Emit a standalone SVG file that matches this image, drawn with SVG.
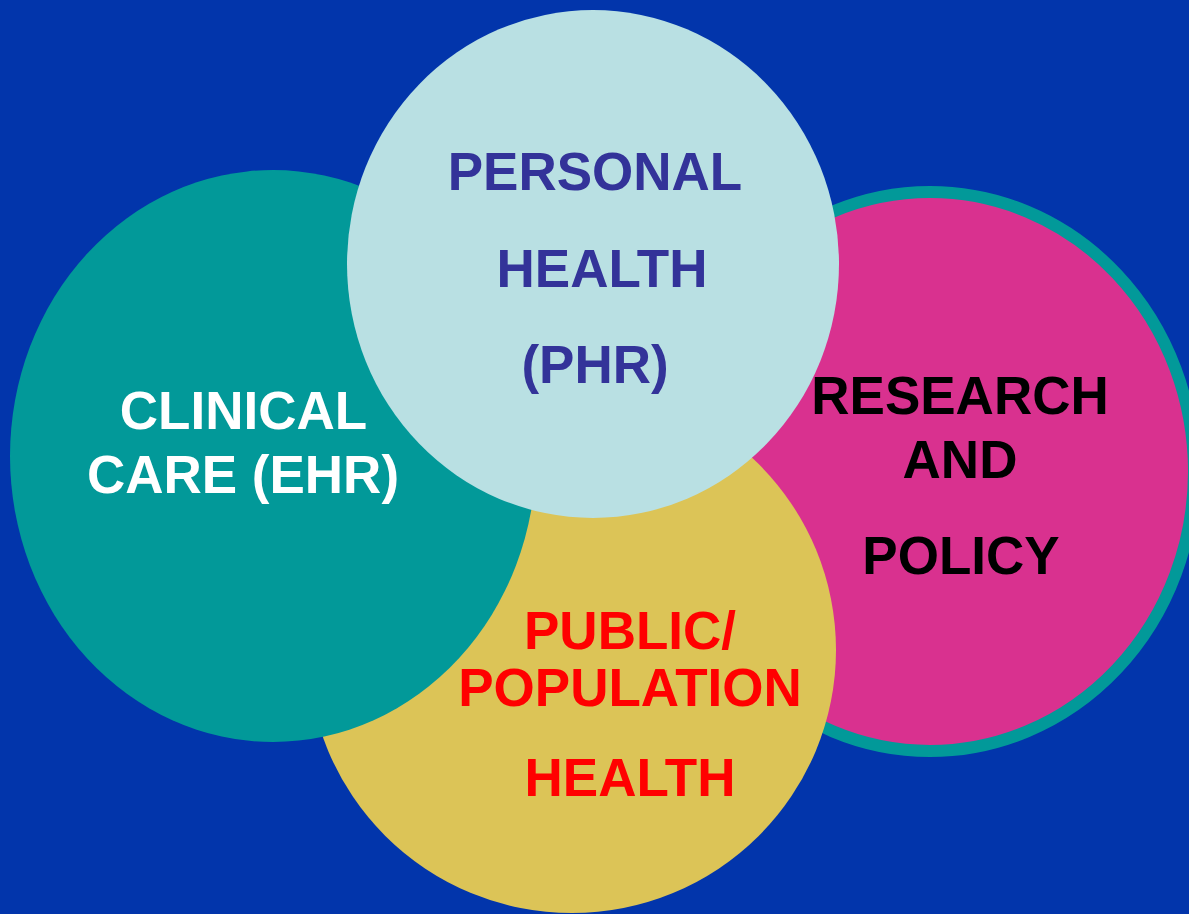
<svg xmlns="http://www.w3.org/2000/svg" width="1189" height="914" viewBox="0 0 1189 914">
<style>
.t{font-family:"Liberation Sans",Arial,sans-serif;font-weight:bold;font-size:53px;text-anchor:middle}
</style>
<rect width="1189" height="914" fill="#0235AB"/>
<g id="research">
<ellipse cx="930" cy="471.5" rx="264" ry="279.5" fill="#D9318F" stroke="#029999" stroke-width="12"/>
<text class="t" x="960" y="414" fill="#000">RESEARCH</text>
<text class="t" x="960" y="478" fill="#000">AND</text>
<text class="t" x="961" y="574" fill="#000">POLICY</text>
</g>
<g id="public">
<ellipse cx="572" cy="650" rx="264" ry="263" fill="#DCC457"/>
<text class="t" x="630" y="649" fill="#FF0000">PUBLIC/</text>
<text class="t" x="630" y="706" fill="#FF0000">POPULATION</text>
<text class="t" x="630" y="796" fill="#FF0000">HEALTH</text>
</g>
<g id="clinical">
<ellipse cx="273" cy="456" rx="263" ry="286" fill="#029999"/>
<text class="t" x="243.5" y="429" fill="#FFFFFF">CLINICAL</text>
<text class="t" x="243" y="493" fill="#FFFFFF">CARE (EHR)</text>
</g>
<g id="personal">
<ellipse cx="593" cy="264" rx="246" ry="254" fill="#B9E0E3"/>
<text class="t" x="595" y="190" fill="#333399">PERSONAL</text>
<text class="t" x="602" y="287" fill="#333399">HEALTH</text>
<text class="t" x="595" y="383" fill="#333399">(PHR)</text>
</g>
<g id="connectors"/>
</svg>
